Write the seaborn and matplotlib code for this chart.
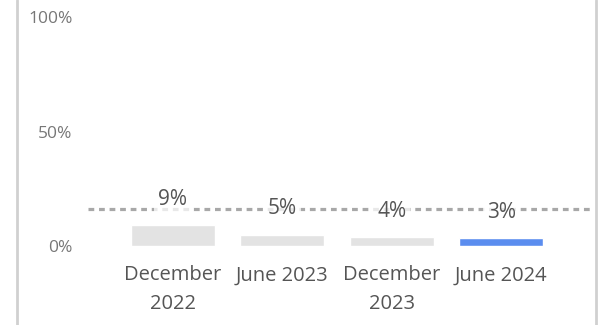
import matplotlib
matplotlib.use("Agg")
import matplotlib.pyplot as plt
import seaborn as sns
import pandas as pd
from matplotlib.lines import Line2D

categories = ["December\n2022", "June 2023", "December\n2023", "June 2024"]
values = [9, 5, 4, 3.5]
value_labels = ["9%", "5%", "4%", "3%"]
reference_value = 16
yticks = [0, 50, 100]
ytick_labels = ["0%", "50%", "100%"]

sns.set_theme(style="white")
plt.rcParams['font.family'] = ['Open Sans', 'DejaVu Sans']

df = pd.DataFrame({"period": categories, "value": values})
colors = ["#e3e3e3", "#e3e3e3", "#e3e3e3", "#5b8def"]

fig = plt.figure(figsize=(6, 3.25), dpi=100)
ax = fig.add_axes([88/600, (325-246)/325, (592-88)/600, (246-17)/325])

sns.barplot(data=df, x="period", y="value", hue="period", palette=colors,
            legend=False, width=0.77, ax=ax, saturation=1)

ax.axhline(reference_value, color="#a8a8a8", linewidth=2.3,
           linestyle=(0, (1.8, 1.5)), zorder=1)

for i, (v, lab) in enumerate(zip(values, value_labels)):
    ax.annotate(lab, xy=(i, v), xytext=(0, 14.5), textcoords="offset points",
                ha="center", va="baseline", fontsize=15, color="#555555",
                bbox=dict(boxstyle="square,pad=0.2", fc="white", ec="none", alpha=0.75),
                zorder=3)

ax.set_xlim(-0.776, 3.83)
ax.set_ylim(0, 100)
ax.set_yticks(yticks)
ax.set_yticklabels(ytick_labels, fontsize=12.5, color="#777777")
ax.tick_params(axis="y", length=0, pad=11)
ax.tick_params(axis="x", length=0, pad=14, labelsize=14.5, labelcolor="#555555")
for t in ax.get_xticklabels():
    t.set_linespacing(1.55)
ax.set_xlabel("")
ax.set_ylabel("")
for s in ax.spines.values():
    s.set_visible(False)

fig.add_artist(Line2D([17/600, 17/600], [0, 1], color="#d0d0d0", linewidth=2, transform=fig.transFigure))
fig.add_artist(Line2D([596/600, 596/600], [0, 1], color="#d0d0d0", linewidth=2, transform=fig.transFigure))

fig.savefig("out.png", dpi=100)
